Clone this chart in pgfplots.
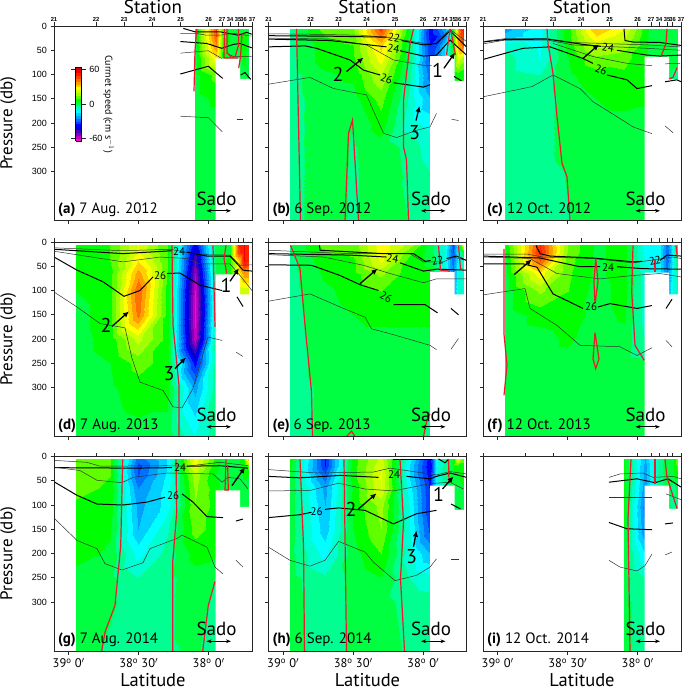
\documentclass[border=0pt]{standalone}
\usepackage{fontspec}
\setmainfont{PT Sans}
\newfontfamily\tickf{Liberation Sans}
\usepackage{pgfplots}
\usepackage{pgfplotstable}
\pgfplotsset{compat=1.18}
\usetikzlibrary{arrows.meta}

% current speed (cm/s): columns are x positions across the panel, rows are pressure
\pgfplotstableread[header=has colnames]{
y 140.5 161.5 168 176 184 189.5 194.5
6 3 45 15 3 5 3 3
20 3 45 15 3 5 8 3
40 3 40 12 3 5 8 3
65 3 30 8 3 3 6 3
100 3 12 3 3 3 4 3
150 3 6 3 3 3 3 3
200 3 3 3 3 3 3 3
250 3 3 3 3 3 3 3
300 3 3 3 3 3 3 3
401 3 2 3 3 3 3 3
}\tabA
\pgfplotstableread[header=has colnames]{
y 21.5 56.5 84.5 112.5 140.5 161.5 168 176 184 189.5 194.5
6 -2 12 14 48 6 -38 -30 -20 3 40 52
20 -2 10 13 42 4 -38 -35 -25 5 40 50
40 -2 8 10 32 2 -35 -30 -15 8 35 45
65 -2 8 9 28 1 -32 -25 -15 5 25 18
100 -2 4 6 20 -3 -28 -20 -10 5 8 6
150 -2 3 3 12 -6 -20 -8 -8 5 5 5
200 -2 3 0 8 -8 -12 -8 -8 5 5 5
250 -2 3 -0.5 3 -1.5 -8 -8 -8 5 5 5
300 -2 3 -0.7 3 -1 -5 -8 -8 5 5 5
401 -2 3 -0.7 3 -0.2 -4 -8 -8 5 5 5
}\tabB
\pgfplotstableread[header=has colnames]{
y 21.5 56.5 84.5 112.5 140.5 161.5 168 176 184 189.5 194.5
6 -22 -12 8 35 25 8 3 3 2 5 5
20 -18 -12 8 30 22 7 3 3 2 5 5
40 -8 -11 7 22 18 7 3 3 2 4 4
65 -3 -10 5 14 12 6 3 3 2 3 3
100 -3 -5 4 8 9 6 3 3 2 -2 -2
150 -3 -3 2 5 7 6 3 3 2 -2 -2
200 -3 -2 2 3 3 3 3 3 2 -2 -2
250 -3 -2 2 2 2 2 3 3 2 -2 -2
300 -3 -2 0.3 2 2 2 3 3 2 -2 -2
401 -3 -2 -0.2 2 2 2 3 3 2 -2 -2
}\tabC
\pgfplotstableread[header=has colnames]{
y 21.5 56.5 84.5 112.5 140.5 161.5 168 176 184 189.5 194.5
6 7 10 25 10 -40 3 3 5 50 55 50
20 7 10 25 10 -45 3 3 5 48 55 52
40 7 10 30 10 -50 3 3 8 30 55 50
65 6 8 38 10 -55 1 3 8 25 38 38
100 5 8 45 8 -60 -1 3 8 20 22 22
150 3 8 42 8 -62 -1 3 8 20 22 22
200 3 7 22 8 -58 -1 3 8 20 22 22
250 3 5 12 8 -38 -2 3 8 20 22 22
300 2 4 8 7 -22 -2 3 8 20 22 22
401 2 2 3 3 -10 -2 3 8 20 22 22
}\tabD
\pgfplotstableread[header=has colnames]{
y 21.5 56.5 84.5 112.5 140.5 161.5 168 176 184 189.5 194.5
6 -0.3 12 12 28 18 3 -3 -10 -30 -12 25
20 -1 10 11 28 12 3 -3 -10 -30 -12 5
40 -2 8 9 26 8 4 -3 -10 -28 -12 -5
65 -2 6 8 16 7 6 -3 -10 -25 -10 -8
100 -2 4 7 10 7 7 -3 -10 -25 -8 -8
150 -2 3 5 7 7 7 -3 -10 -25 -8 -8
200 -2 2 3 3 3 3 -3 -10 -25 -8 -8
250 -2 2 2 2 2 2 -3 -10 -25 -8 -8
300 -2 1 2 2 2 1 -3 -10 -25 -8 -8
401 -2 1 2 2 2 -0.8 -3 -10 -25 -8 -8
}\tabE
\pgfplotstableread[header=has colnames]{
y 21.5 56.5 84.5 112.5 140.5 161.5 168 176 184 189.5 194.5
6 5 50 14 4 7 -12 -12 -12 -28 -12 5
20 4 52 14 4 7 -12 -12 -12 -28 -12 3
40 3 45 12 4 7 -10 -12 -12 -28 -12 3
65 3 28 11 4 7 -8 -10 -12 -25 -10 -3
100 2 16 10 3 7 -8 -10 -12 -25 -8 -8
150 2 7 8 3 6 -7 -10 -12 -25 -8 -8
200 2 3 6 2 3 -5 -10 -12 -25 -8 -8
250 2 3 3 2 2 1 -10 -12 -25 -8 -8
300 2 2 3 2 2 2 -10 -12 -25 -8 -8
401 2 2 2 2 2 2 -10 -12 -25 -8 -8
}\tabF
\pgfplotstableread[header=has colnames]{
y 21.5 56.5 84.5 112.5 140.5 161.5 168 176 184 189.5 194.5
6 14 10 -28 -15 28 8 5 3 3 10 35
20 14 10 -32 -15 26 6 4 3 3 8 12
40 14 10 -30 -14 18 5 3 3 3 6 5
65 12 9 -25 -13 16 7 3 3 3 3 3
100 9 8 -22 -13 15 8 3 3 3 3 3
150 8 6 -20 -6 12 8 3 3 3 3 3
200 7 4 -12 -3 7 6 3 3 3 3 3
250 3 1.5 -5 -1.5 3 0 3 3 3 3 3
300 3 1 -3 -1.2 3 -2 3 3 3 3 3
401 3 -1.2 -3 -1 1 -3 3 3 3 3 3
}\tabG
\pgfplotstableread[header=has colnames]{
y 21.5 56.5 84.5 112.5 140.5 161.5 168 176 184 189.5 194.5
6 8 -35 8 22 -12 -38 -10 -3 6 25 12
20 6 -35 8 24 -15 -40 -10 -3 5 8 8
40 4 -28 8 26 -15 -38 -8 -3 4 5 6
65 4 -22 6 25 -12 -36 -8 -3 3 4 5
100 3 -20 6 17 -10 -36 -8 -3 3 3 4
150 3 -18 5 15 -9 -32 -8 -3 3 3 4
200 2 -12 3 10 -8 -20 -8 -3 3 3 4
250 2 -4 1.5 5 -5 -8 -8 -3 3 3 4
300 2 -3 1 2 -2 -3 -8 -3 3 3 4
401 2 -3 1 3 -1 -3 -8 -3 3 3 4
}\tabH
\pgfplotstableread[header=has colnames]{
y 140.5 161.5 168 176 184 189.5 194.5
6 6 -20 -12 -3 3 5 16
20 6 -22 -12 -3 3 5 12
40 6 -22 -12 -3 3 4 8
65 6 -24 -12 -3 3 -3 3
100 6 -28 -12 -3 3 -3 -2
150 5 -25 -12 -3 3 -3 -2
200 4 -15 -12 -3 3 -3 -2
250 2 -5 -12 -3 3 -3 -2
300 1 -2 -12 -3 3 -3 -2
401 1 -2 -12 -3 3 -3 -2
}\tabI

\pgfplotsset{
  colormap={speed}{rgb255=(255,0,224) rgb255=(192,0,192) rgb255=(128,0,192) rgb255=(64,0,192)
    rgb255=(0,0,208) rgb255=(0,0,255) rgb255=(0,64,255) rgb255=(0,112,255) rgb255=(0,160,255)
    rgb255=(0,208,255) rgb255=(0,255,255) rgb255=(0,255,208) rgb255=(0,255,144) rgb255=(0,255,64)
    rgb255=(0,255,0) rgb255=(96,255,0) rgb255=(160,255,0) rgb255=(208,255,0) rgb255=(255,255,0)
    rgb255=(255,208,0) rgb255=(255,160,0) rgb255=(255,112,0) rgb255=(255,64,0) rgb255=(255,32,0)
    rgb255=(240,0,0) rgb255=(208,0,0)},
  panel/.style={scale only axis,width=198pt,height=194.5pt,anchor=south west,
    xmin=0,xmax=198,ymin=0,ymax=401,y dir=reverse,axis on top,
    axis line style={line width=0.9pt,black!85},
    tick style={line width=0.7pt,black!85,major tick length=3.5pt},tick align=outside,
    /pgf/number format/assume math mode=true,
    tick label style={font=\fontsize{9}{9}\tickf},
    point meta min=-65,point meta max=65,colormap name=speed},
  main/.style={panel,xtick={14.7,84.7,154.7},ytick={0,50,100,150,200,250,300},
    xtick pos=lower,ytick pos=left,xticklabels={},yticklabels={},
    xlabel style={font=\fontsize{18.5}{18.5}\selectfont,at={(axis description cs:0.5,-0.15)},anchor=center},
    ylabel style={font=\fontsize{17}{17}\selectfont,at={(axis description cs:-0.231,0.5)},anchor=center}},
  ylab/.style={yticklabels={0,50,100,150,200,250,300},ylabel={Pressure (db)}},
  xlab/.style={xticklabels={39$^{\mathrm{o}}$ 0$'$,38$^{\mathrm{o}}$ 30$'$,38$^{\mathrm{o}}$ 0$'$},
    xticklabel style={font=\fontsize{12.5}{12.5}\selectfont},xlabel={Latitude}},
  stn/.style={panel,xtick={0,42,70,98,126.5,154.5,168,176,184,189.5,198},xticklabels={},ytick=\empty,
    xtick pos=upper,xticklabel pos=upper},
  stnlab/.style={xticklabels={21,22,23,24,25,26,27,34,35,36,37},
    xticklabel style={font=\fontsize{5.8}{6}\tickf\bfseries,inner sep=1pt},
    title={Station},title style={font=\fontsize{19}{19}\selectfont,at={(axis description cs:0.5,1.07)},anchor=center}},
  thinl/.style={black!80,line width=0.5pt},
  thickl/.style={black,line width=1pt},
  redl/.style={color={rgb,255:red,232;green,28;blue,44},line width=1.2pt},
  arr/.style={black,line width=1.3pt,-{Latex[length=6pt,width=5.5pt]}},
  field/.style={contour filled={number=26},point meta=explicit},
}
\tikzset{big/.style={font=\fontsize{20}{20}\selectfont,inner sep=0pt},
  num/.style={font=\fontsize{11}{11}\selectfont,inner sep=0pt}}

% turn a wide table into the mesh of one filled contour plot
\newcommand\field[1]{%
  \pgfplotstablegetrowsof{#1}\pgfmathtruncatemacro\lastr{\pgfplotsretval-1}%
  \pgfplotstablegetcolsof{#1}\pgfmathtruncatemacro\lastc{\pgfplotsretval-1}%
  \gdef\acc{}%
  \foreach \r in {0,...,\lastr}{%
    \pgfplotstablegetelem{\r}{[index]0}\of{#1}\let\yy\pgfplotsretval
    \foreach \c in {1,...,\lastc}{%
      \pgfplotstablegetcolumnnamebyindex{\c}\of{#1}\to\xx
      \pgfplotstablegetelem{\r}{[index]\c}\of{#1}%
      \xdef\acc{\acc (\xx,\yy)[\pgfplotsretval]}}}%
  \edef\tmp{\noexpand\addplot[field,mesh/cols=\lastc] coordinates {\acc};}\tmp}
\newcommand\sado[2]{%
  \addplot[fill=white,draw=none] coordinates {(161.5,#1)(186,#1)(186,#2)(198,#2)(198,401)(161.5,401)};}
\newcommand\panelmarks[1]{%
  \node[font=\fontsize{19}{19}\selectfont,inner sep=0pt] at (axis cs:162.5,356) {Sado};
  \addplot[black,line width=0.9pt,{Stealth[length=5pt]}-{Stealth[length=5pt]}] coordinates {(152.5,381)(177,381)};
  \node[anchor=west,font=\fontsize{15}{15}\selectfont,inner sep=0pt] at (axis cs:4,378) {#1};}

\begin{document}
\begin{tikzpicture}
\useasboundingbox (0pt,0pt) rectangle (685pt,688pt);

% (a)
\begin{axis}[main,ylab,at={(54pt,467.5pt)},colorbar,
  colorbar style={at={(parent axis.north west)},anchor=north west,xshift=13pt,yshift=-41pt,
    width=6pt,height=74pt,ytick={-60,0,60},yticklabel pos=right,
    tick label style={font=\fontsize{9}{9}\tickf},tick align=outside,
    /pgf/number format/assume math mode=true,ylabel shift=-6pt,
    ylabel={Currnet speed (cm s$^{-1}$)},ylabel style={font=\fontsize{10}{10}\selectfont,rotate=180}}]
\field{\tabA}
\sado{67}{109}
\addplot[thinl] coordinates {(126.3,15)(141,15)(152.7,19)(166,19)(179.3,15)(197.7,21)};
\addplot[thickl] coordinates {(129.3,5)(141,12)(166,12)(184.3,19)(192.7,13)(197.7,17)};
\addplot[thickl] coordinates {(126.3,32)(152.7,36)(167.7,46)(179.3,38)(186,36)(197.7,45)};
\addplot[thinl] coordinates {(126.3,56)(154.3,51)(167.7,67)};
\addplot[thinl] coordinates {(172.7,56)(179.3,63)(197.7,63)};
\addplot[thickl] coordinates {(126.3,99)(154.3,83)(168.7,108)};
\addplot[thickl] coordinates {(186.7,101)(191,96)(196.7,110)};
\addplot[thinl] coordinates {(126.3,186)(154.3,189)(168.3,218)};
\addplot[thinl] coordinates {(182.7,192)(189.3,192)};
\addplot[redl] coordinates {(140,135)(141,50)(142.7,6)};
\addplot[redl] coordinates {(170.5,6)(170,66)(184,66)};
\addplot[redl] coordinates {(173,6)(173,55)(177,64)(181,64)(184.5,40)(184.5,6)};
\addplot[redl] coordinates {(184.7,87)(186.5,63)(188,15)};
\panelmarks{\textbf{(a)} 7 Aug. 2012}
\end{axis}
\begin{axis}[stn,stnlab,at={(54pt,467.5pt)}]\end{axis}

% (b)
\begin{axis}[main,at={(268.5pt,467.5pt)}]
\field{\tabB}
\sado{62}{113}
\addplot[thinl] coordinates {(0,16)(41.5,17)(91.5,19)(118,23)(155,36)(168,36)(175,20)(181.5,7)(198,32)};
\addplot[thickl] coordinates {(0,20)(61.5,21)(118,23)};
\addplot[thickl] coordinates {(133,30)(155,39)(168,36)(181.5,10)(198,43)};
\addplot[thinl] coordinates {(0,25)(61.5,27)(98,39)(125,70)(155,81)(163,81)};
\addplot[thickl] coordinates {(0,27)(61.5,30)(118,43)};
\addplot[thickl] coordinates {(131.5,51)(155,62)(168,60)(181.5,29)(198,60)};
\addplot[thickl] coordinates {(0,43)(36.5,41)(48,46)(81.5,70)(95,91)(111.5,101)};
\addplot[thickl] coordinates {(125,117)(155,126)(161.5,121)};
\addplot[thickl] coordinates {(185.5,104)(193,113)};
\addplot[thinl] coordinates {(0,120)(41.5,106)(65,129)(98,142)(103,166)(115,221)(128,230)(148,215)(161.5,208)(168,180)};
\addplot[thinl] coordinates {(183,192)(190,195)};
\addplot[redl] coordinates {(28,6)(30,200)(32,401)};
\addplot[redl] coordinates {(76.5,401)(80,221)(84,194)(90,401)};
\addplot[redl] coordinates {(145,6)(141.5,36)(135,153)(135,249)(138,276)(140,401)};
\addplot[redl] coordinates {(181.5,6)(178,60)};
\addplot[redl] coordinates {(182,6)(187,60)};
\node[num,rotate=-10] at (axis cs:125.5,25) {22};
\node[num,rotate=-10] at (axis cs:125,47) {24};
\node[num,rotate=-20] at (axis cs:118,109) {26};
\addplot[arr] coordinates {(78,94)(95,65)};
\addplot[arr] coordinates {(175.5,87)(186.5,55)};
\addplot[arr] coordinates {(147.5,195)(151,165)};
\node[big] at (axis cs:69.5,99) {2};
\node[big] at (axis cs:169,92) {1};
\node[big] at (axis cs:146,219) {3};
\panelmarks{\textbf{(b)} 6 Sep. 2012}
\end{axis}
\begin{axis}[stn,stnlab,at={(268.5pt,467.5pt)}]\end{axis}

% (c)
\begin{axis}[main,at={(483pt,467.5pt)}]
\field{\tabC}
\sado{63}{110}
\addplot[thinl] coordinates {(0,32)(22,26)(64,26)(90,34)(164,39)(197,43)};
\addplot[thinl] coordinates {(0,37)(22,29)(64,29)(90,39)(164,46)(197,50)};
\addplot[thickl] coordinates {(141,6)(142,30)(150,33)(177,34)(198,40)};
\addplot[thickl] coordinates {(0,33)(22,28)(64,27)(100,38)(118,42)};
\addplot[thickl] coordinates {(134,50)(164,60)(177,62)(198,60)};
\addplot[thickl] coordinates {(0,69)(40,46)(67,43)(100,67)(110,77)};
\addplot[thickl] coordinates {(124,101)(144,111)(154,129)(169,123)};
\addplot[thickl] coordinates {(182,115)(194,111)(198,115)};
\addplot[thinl] coordinates {(70,36)(110,63)(144,77)(169,82)};
\addplot[thinl] coordinates {(182,78)(197,77)};
\addplot[thinl] coordinates {(0,146)(49,125)(70,101)(97,129)(110,156)(134,187)(150,208)(169,222)};
\addplot[thinl] coordinates {(182,206)(190,220)};
\addplot[redl] coordinates {(64,6)(65,36)(70,98)(74,187)(79,283)(84,311)(87,401)};
\addplot[redl] coordinates {(184,6)(183,36)(178,63)};
\addplot[redl] coordinates {(194,86)(190,106)(186,109)};
\addplot[arr] coordinates {(100,67)(116,38)};
\node[num,rotate=-10] at (axis cs:125,44) {24};
\node[num,rotate=-20] at (axis cs:118,91) {26};
\panelmarks{\textbf{(c)} 12 Oct. 2012}
\end{axis}
\begin{axis}[stn,stnlab,at={(483pt,467.5pt)}]\end{axis}

% (d)
\begin{axis}[main,ylab,at={(54pt,251.5pt)}]
\field{\tabD}
\sado{67}{108}
\addplot[thinl] coordinates {(0,12)(69,18)(116,15)(146,26)(176,27)(186,48)(198,47)};
\addplot[thickl] coordinates {(0,15)(69,24)(118,18)};
\addplot[thickl] coordinates {(133,21)(153,29)(176,29)(189,58)(198,60)};
\addplot[thinl] coordinates {(0,19)(69,41)(106,31)(133,34)(146,45)(176,45)(186,69)(198,100)};
\addplot[thickl] coordinates {(0,31)(23,58)(49,82)(70,112)(86,100)(99,72)};
\addplot[thickl] coordinates {(113,65)(126,64)(146,89)(168,100)};
\addplot[thickl] coordinates {(183,113)(189,133)};
\addplot[thinl] coordinates {(0,103)(23,134)(46,168)(71,177)(78,240)(86,289)(109,306)(119,340)(128,342)(139,302)(154,196)(168,203)};
\addplot[thinl] coordinates {(182,227)(189,236)};
\addplot[redl] coordinates {(118,7)(119,172)(125,296)(125,401)};
\addplot[redl] coordinates {(159,7)(161,175)};
\addplot[redl] coordinates {(172,7)(170,34)(172.7,65)};
\node[num] at (axis cs:125,19) {24};
\node[num] at (axis cs:106,69) {26};
\addplot[arr] coordinates {(58,174)(75,143)};
\addplot[arr] coordinates {(121,261)(132,238)};
\addplot[arr] coordinates {(176,81)(185,54)};
\node[big] at (axis cs:52,172) {2};
\node[big] at (axis cs:115,271) {3};
\node[big] at (axis cs:172,89) {1};
\panelmarks{\textbf{(d)} 7 Aug. 2013}
\end{axis}
\begin{axis}[stn,at={(54pt,251.5pt)}]\end{axis}

% (e)
\begin{axis}[main,at={(268.5pt,251.5pt)}]
\field{\tabE}
\sado{62}{108}
\addplot[thinl] coordinates {(0,17)(81.5,24)(141.5,24)(155,41)(175,41)(185,31)(198,38)};
\addplot[thickl] coordinates {(51,7)(51.5,17)(115,24)(145,24)(157,40)(162,38)};
\addplot[thickl] coordinates {(178,34)(188,29)(198,38)};
\addplot[thickl] coordinates {(0,24)(81.5,27)(118,31)};
\addplot[thickl] coordinates {(131.5,43)(155,60)(168,56)(198,58)};
\addplot[thinl] coordinates {(0,26)(55,31)(95,48)(121.5,65)(155,84)(168,76)(198,76)};
\addplot[thickl] coordinates {(0,47)(43,48)(71.5,69)(91.5,88)(110,100)};
\addplot[thickl] coordinates {(125,129)(156.5,129)(169,146)};
\addplot[thickl] coordinates {(182.5,137)(190,150)};
\addplot[thinl] coordinates {(0,122)(41.5,107)(75,137)(96.5,155)(103,179)(121.5,189)(161.5,213)(168,222)};
\addplot[thinl] coordinates {(182.5,221)(190,199)};
\addplot[redl] coordinates {(22,7)(31.5,55)(36.5,172)(43,309)(44,401)};
\addplot[redl] coordinates {(78,401)(83,390)(86.5,401)};
\addplot[redl] coordinates {(155,401)(158,371)(161.5,354)};
\addplot[redl] coordinates {(170,7)(172,58)(181.5,60)};
\addplot[redl] coordinates {(190,7)(192,55)(195,58)};
\node[num,rotate=-10] at (axis cs:124,34) {24};
\node[num,rotate=10] at (axis cs:169,38) {22};
\node[num,rotate=-30] at (axis cs:117.5,113) {26};
\addplot[arr] coordinates {(91.5,86)(109,55)};
\panelmarks{\textbf{(e)} 6 Sep. 2013}
\end{axis}
\begin{axis}[stn,at={(268.5pt,251.5pt)}]\end{axis}

% (f)
\begin{axis}[main,at={(483pt,251.5pt)}]
\field{\tabF}
\sado{63}{108}
\addplot[thinl] coordinates {(0,25)(44,25)(60,31)(110,34)(150,43)(190,31)(198,34)};
\addplot[thickl] coordinates {(53,7)(57,24)(67,29)(110,33)(150,41)(159,40)};
\addplot[thickl] coordinates {(177,38)(184,27)(198,29)};
\addplot[thickl] coordinates {(0,29)(57,33)(97,51)(117,51)};
\addplot[thickl] coordinates {(134,51)(160,55)(198,56)};
\addplot[thinl] coordinates {(0,31)(47,34)(74,65)(117,76)(150,69)(177,65)(198,72)};
\addplot[thickl] coordinates {(0,45)(40,45)(54,52)(70,107)(100,137)};
\addplot[thickl] coordinates {(115,134)(127,127)(154,137)(169,131)};
\addplot[thickl] coordinates {(183,137)(189,118)};
\addplot[thinl] coordinates {(0,109)(42,96)(47,137)(74,172)(97,213)(137,216)(154,234)(169,218)};
\addplot[thinl] coordinates {(183,203)(189,216)};
\addplot[redl] coordinates {(21,14)(21,190)(24,254)(21,316)};
\addplot[redl] coordinates {(112.7,34)(111,82)(112,127)(115,82)(112.7,34)};
\addplot[redl] coordinates {(112,187)(110,241)(112.7,261)(116,241)(112,187)};
\addplot[redl] coordinates {(150,7)(148.7,103)(152,213)(161.3,244)};
\addplot[redl] coordinates {(172,38)(172,62)};
\addplot[redl] coordinates {(193,7)(194.3,31)};
\node[num] at (axis cs:108,134) {26};
\node[num] at (axis cs:125,52) {24};
\node[num,rotate=10] at (axis cs:172,38) {22};
\addplot[arr] coordinates {(31.3,67)(48.7,36)};
\panelmarks{\textbf{(f)} 12 Oct. 2013}
\end{axis}
\begin{axis}[stn,at={(483pt,251.5pt)}]\end{axis}

% (g)
\begin{axis}[main,ylab,xlab,at={(54pt,37pt)}]
\field{\tabG}
\sado{70}{104}
\addplot[thinl] coordinates {(0,8)(33,12)(46,20)(113,19)(133,20)(166,12)(194,19)};
\addplot[thickl] coordinates {(0,23)(79,24)(118,23)};
\addplot[thickl] coordinates {(133,20)(166,19)(194,24)};
\addplot[thinl] coordinates {(0,22)(26,29)(43,49)(68,54)(79,43)(113,34)(159,36)(168,53)(174,43)(186,46)(194,67)};
\addplot[thickl] coordinates {(0,52)(23,80)(43,98)(69,100)(93,94)(111,84)};
\addplot[thickl] coordinates {(128,77)(139,94)(153,124)(169,126)};
\addplot[thickl] coordinates {(182,133)(189,129)};
\addplot[thinl] coordinates {(0,127)(23,173)(43,190)(51,221)(68,234)(89,219)(96,190)(124,168)(128,162)(153,187)(161,228)(169,242)};
\addplot[thinl] coordinates {(182,214)(189,228)};
\addplot[redl] coordinates {(68.7,6)(66.7,184)(61,307)(51,362)(47.7,401)};
\addplot[redl] coordinates {(122,6)(122.7,115)(118.7,218)(118.7,401)};
\addplot[redl] coordinates {(161,258)(154.3,307)(148.7,401)};
\addplot[redl] coordinates {(172,6)(171,69)(174.3,69)(173.7,18)};
\node[num] at (axis cs:126,22) {24};
\node[num] at (axis cs:119,80) {26};
\addplot[arr] coordinates {(178,60)(191,22)};
\panelmarks{\textbf{(g)} 7 Aug. 2014}
\end{axis}
\begin{axis}[stn,at={(54pt,37pt)}]\end{axis}

% (h)
\begin{axis}[main,xlab,at={(268.5pt,37pt)}]
\field{\tabH}
\sado{60}{110}
\addplot[thinl] coordinates {(0,27)(48,34)(105,32)(121.5,24)(168,38)(181.5,31)(198,36)};
\addplot[thickl] coordinates {(124,6)(163,6)};
\addplot[thickl] coordinates {(170,5)(176.5,13)(180,6)};
\addplot[thickl] coordinates {(0,41)(31.5,44)(71.5,39)(110,43)};
\addplot[thickl] coordinates {(138,41)(161.5,46)(168,41)(181.5,34)(198,43)};
\addplot[thinl] coordinates {(0,71)(41.5,70)(70,55)(96.5,67)(125,71)(161.5,56)(181.5,53)(195,67)};
\addplot[thickl] coordinates {(0,126)(31.5,120)(43,115)};
\addplot[thickl] coordinates {(56.5,109)(70,106)(96.5,111)(125,139)(148,118)(168,111)};
\addplot[thickl] coordinates {(182.5,98)(192,108)};
\addplot[thinl] coordinates {(0,187)(21.5,214)(41.5,226)(56.5,214)(70,175)(96.5,197)(105,218)(126.5,256)(148,245)(161.5,228)(168,211)};
\addplot[thinl] coordinates {(182.5,211)(190,211)};
\addplot[redl] coordinates {(31.5,6)(35,184)(36,401)};
\addplot[redl] coordinates {(75.5,6)(78,401)};
\addplot[redl] coordinates {(131.5,6)(135,135)(132,252)(136,401)};
\addplot[redl] coordinates {(180,6)(180.5,56)};
\node[num] at (axis cs:125.5,37) {24};
\node[num] at (axis cs:48,113) {26};
\addplot[arr] coordinates {(90,108)(108,76)};
\addplot[arr] coordinates {(145,186)(148,153)};
\addplot[arr] coordinates {(174,67)(185,41)};
\node[big] at (axis cs:82.5,109) {2};
\node[big] at (axis cs:143,206) {3};
\node[big] at (axis cs:170,79) {1};
\panelmarks{\textbf{(h)} 6 Sep. 2014}
\end{axis}
\begin{axis}[stn,at={(268.5pt,37pt)}]\end{axis}

% (i)
\begin{axis}[main,xlab,at={(483pt,37pt)}]
\field{\tabI}
\sado{60}{108}
\addplot[thinl] coordinates {(126,43)(137,36)(160,34)(170,43)(190,41)(198,46)};
\addplot[thickl] coordinates {(126,53)(154,46)(172,54)(185,46)(198,63)};
\addplot[thinl] coordinates {(126,85)(169,85)};
\addplot[thinl] coordinates {(183,77)(198,89)};
\addplot[thickl] coordinates {(126,136)(144,149)(169,151)};
\addplot[thickl] coordinates {(182,139)(190,137)};
\addplot[thinl] coordinates {(126,214)(137,228)(154,236)(162,225)(169,201)};
\addplot[thinl] coordinates {(182,203)(189,197)};
\addplot[redl] coordinates {(148,6)(145,129)(147,401)};
\addplot[redl] coordinates {(172,6)(172,56)};
\addplot[redl] coordinates {(182,6)(184,43)(194,107)};
\panelmarks{\textbf{(i)} 12 Oct. 2014}
\end{axis}
\begin{axis}[stn,at={(483pt,37pt)}]\end{axis}
\end{tikzpicture}
\end{document}
